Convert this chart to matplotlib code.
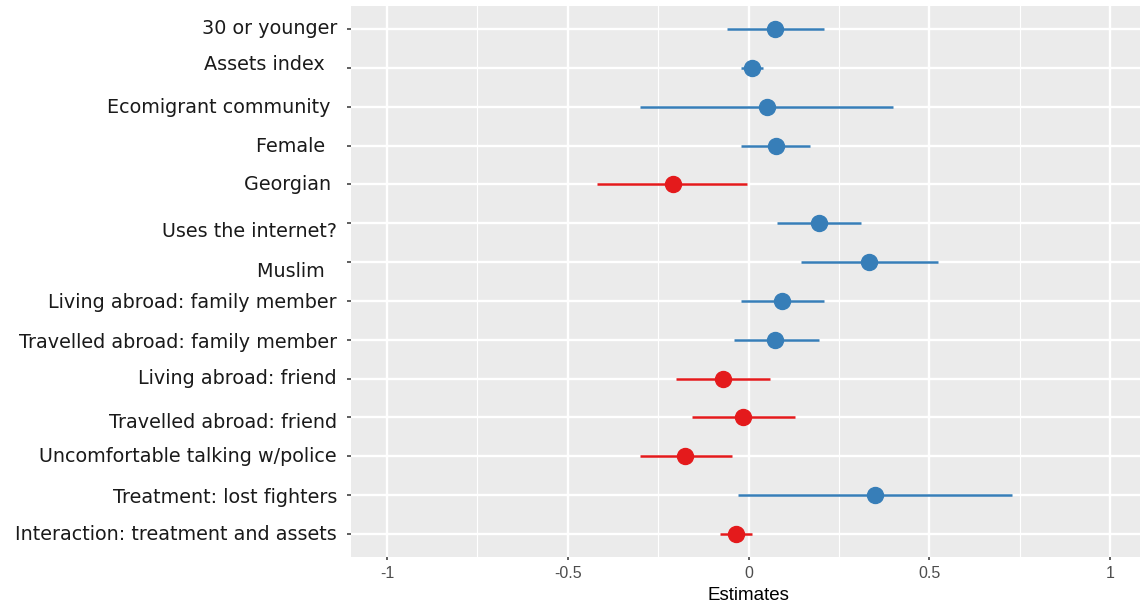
import matplotlib
matplotlib.use("Agg")
import matplotlib.pyplot as plt
import matplotlib.transforms as mtransforms
from matplotlib.ticker import MultipleLocator

# Coefficient estimates with confidence intervals, top to bottom
terms = [
    "30 or younger",
    "Assets index  ",
    "Ecomigrant community ",
    "Female  ",
    "Georgian ",
    "Uses the internet?",
    "Muslim  ",
    "Living abroad: family member",
    "Travelled abroad: family member",
    "Living abroad: friend",
    "Travelled abroad: friend",
    "Uncomfortable talking w/police",
    "Treatment: lost fighters",
    "Interaction: treatment and assets",
]
estimates = [0.073, 0.010, 0.050, 0.075, -0.210, 0.195, 0.333, 0.093,
             0.073, -0.070, -0.015, -0.175, 0.350, -0.035]
conf_low = [-0.060, -0.020, -0.300, -0.020, -0.420, 0.080, 0.145, -0.020,
            -0.040, -0.200, -0.155, -0.300, -0.030, -0.080]
conf_high = [0.210, 0.040, 0.400, 0.170, -0.005, 0.310, 0.525, 0.210,
             0.195, 0.060, 0.130, -0.045, 0.730, 0.010]
x_ticks = [-1, -0.5, 0, 0.5, 1]
x_tick_labels = ["-1", "-0.5", "0", "0.5", "1"]

POS_COLOR = "#377EB8"
NEG_COLOR = "#E41A1C"

# small vertical nudges of the term labels (pixels, + = down)
label_nudge_px = [-3, -6, -1, -1, -2, 6, 7, 0, 1, -2, 3, -2, 1, -1]

W, H, DPI = 1140, 606, 100
fig = plt.figure(figsize=(W / DPI, H / DPI), dpi=DPI)
fig.patch.set_facecolor("white")

left_px, right_px, top_px, bottom_px = 351, 1146, 6, 557
ax = fig.add_axes([left_px / W, 1 - bottom_px / H,
                   (right_px - left_px) / W, (bottom_px - top_px) / H])
ax.set_facecolor("#EBEBEB")
for s in ax.spines.values():
    s.set_visible(False)

n = len(terms)
ypos = list(range(n, 0, -1))

for y, est, lo, hi in zip(ypos, estimates, conf_low, conf_high):
    col = POS_COLOR if est > 0 else NEG_COLOR
    ax.plot([lo, hi], [y, y], color=col, lw=1.8, solid_capstyle="butt", zorder=3)
    ax.plot([est], [y], "o", ms=11.5, color=col, mec=col, zorder=4)

ax.set_xlim(-1.1, 1.1)
ax.set_ylim(0.4, n + 0.6)

ax.set_xticks(x_ticks)
ax.set_xticklabels(x_tick_labels, family="Liberation Sans", fontsize=11.5,
                   color="#4D4D4D")
ax.xaxis.set_minor_locator(MultipleLocator(0.25))
ax.set_yticks(ypos)
ax.set_yticklabels(terms, family="DejaVu Sans", fontsize=13.8, color="#1A1A1A")

ax.grid(which="major", axis="both", color="white", lw=1.7, zorder=0)
ax.grid(which="minor", axis="x", color="white", lw=0.8, zorder=0)
ax.set_axisbelow(True)

ax.tick_params(axis="x", which="major", length=2.5, width=1.1, color="#333333",
               pad=4)
ax.tick_params(axis="x", which="minor", length=0)
ax.tick_params(axis="y", which="major", length=3, width=1.1, color="#333333",
               pad=7)

for lab, dpx in zip(ax.get_yticklabels(), label_nudge_px):
    lab.set_transform(lab.get_transform() +
                      mtransforms.ScaledTranslation(0, -dpx / DPI, fig.dpi_scale_trans))

ax.set_xlabel("Estimates", family="Liberation Sans", fontsize=13.5, color="black",
              labelpad=4)

fig.savefig("out.png", dpi=DPI, facecolor="white")
